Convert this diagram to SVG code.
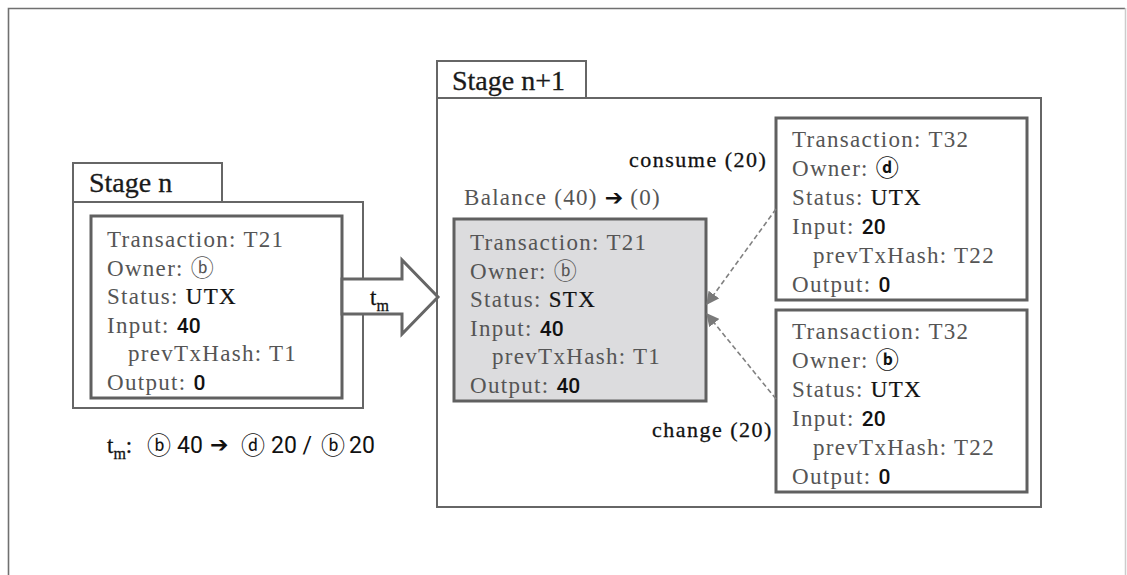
<svg xmlns="http://www.w3.org/2000/svg" width="1127" height="575" viewBox="0 0 1127 575">
  <defs>
    <style>
      .frame { fill: none; stroke: #707070; stroke-width: 1.6; }
      .stage { fill: #ffffff; stroke: #666666; stroke-width: 2; }
      .tx { fill: #ffffff; stroke: #606060; stroke-width: 3; }
      .tx.spent { fill: #dcdcde; }
      .title { font-family: "Liberation Serif", serif; font-size: 28px; fill: #1a1a1a; stroke: #1a1a1a; stroke-width: 0.3; }
      .lbl { font-family: "Liberation Serif", serif; font-size: 23px; fill: #555555; letter-spacing: 1.3px; }
      .val { fill: #111111; stroke: #111111; stroke-width: 0.2; }
      .num { font-family: Roboto, "Liberation Sans", sans-serif; font-weight: 500; font-size: 21px; fill: #111111; letter-spacing: 0; }
      .circ { font-family: "Noto Sans CJK KR", "DejaVu Sans", sans-serif; font-size: 23px; letter-spacing: 0; }
      .circ.dark { fill: #111111; font-weight: bold; }
      .note { font-family: "Liberation Serif", serif; font-size: 22px; fill: #111111; stroke: #111111; stroke-width: 0.3; letter-spacing: 1.5px; }
      .sym { font-family: "DejaVu Sans", sans-serif; font-weight: bold; font-size: 22px; fill: #111111; letter-spacing: 0; }
      .sub { font-family: "Liberation Serif", serif; fill: #111111; stroke: #111111; stroke-width: 0.3; }
      .lg { font-family: Roboto, "Liberation Sans", sans-serif; font-size: 23px; fill: #111111; }
      .lgc { font-family: "Noto Sans CJK KR", "DejaVu Sans", sans-serif; font-size: 24px; fill: #111111; }
      .link { fill: none; stroke: #808080; stroke-width: 1.6; stroke-dasharray: 5 3; }
    </style>
    <marker id="head" viewBox="0 0 10 10" refX="9" refY="5" markerWidth="13" markerHeight="13" orient="auto" markerUnits="userSpaceOnUse">
      <path d="M0,0 L10,5 L0,10 z" fill="#7a7a7a"/>
    </marker>
  </defs>

  <!-- page frame (open at the bottom) -->
  <path class="frame" d="M8.5,580 V8.5 H1125"/>
  <line x1="1125.5" y1="8" x2="1125.5" y2="580" stroke="#cccccc" stroke-width="1.5"/>

  <!-- Stage n -->
  <g id="stage-n">
    <rect class="stage" x="73" y="163" width="149" height="39"/>
    <rect class="stage" x="73" y="202" width="290" height="206"/>
    <text class="title" x="89" y="192">Stage n</text>
  </g>

  <g id="tx-t21-utx">
    <rect class="tx" x="91" y="216" width="251" height="182"/>
    <text class="lbl" x="107" y="247">Transaction: T21</text>
    <text class="lbl" x="107" y="275.5">Owner: <tspan class="circ">ⓑ</tspan></text>
    <text class="lbl" x="107" y="304">Status: <tspan class="val">UTX</tspan></text>
    <text class="lbl" x="107" y="332.5">Input: <tspan class="num">40</tspan></text>
    <text class="lbl" x="128" y="361">prevTxHash: T1</text>
    <text class="lbl" x="107" y="389.5">Output: <tspan class="num">0</tspan></text>
  </g>

  <!-- Stage n+1 -->
  <g id="stage-n1">
    <rect class="stage" x="437" y="61" width="149" height="37"/>
    <rect class="stage" x="437" y="98" width="604" height="409"/>
    <text class="title" x="452" y="90">Stage n+1</text>
  </g>

  <!-- transition t_m -->
  <g id="transition">
    <polygon points="342,279 402,279 402,260 438,297 402,334 402,314 342,314" fill="#ffffff" stroke="#666666" stroke-width="3" stroke-linejoin="miter"/>
    <text class="sub" font-size="23" x="370" y="305">t<tspan font-size="16" dy="6">m</tspan></text>
  </g>

  <g id="balance">
    <text class="lbl" x="464" y="205" letter-spacing="1">Balance (40) <tspan class="sym">➔</tspan> (0)</text>
  </g>

  <g id="tx-t21-stx">
    <rect class="tx spent" x="454" y="219" width="252" height="182"/>
    <text class="lbl" x="470" y="250">Transaction: T21</text>
    <text class="lbl" x="470" y="278.6">Owner: <tspan class="circ">ⓑ</tspan></text>
    <text class="lbl" x="470" y="307.2">Status: <tspan class="val">STX</tspan></text>
    <text class="lbl" x="470" y="335.8">Input: <tspan class="num">40</tspan></text>
    <text class="lbl" x="492" y="364.4">prevTxHash: T1</text>
    <text class="lbl" x="470" y="393">Output: <tspan class="num">40</tspan></text>
  </g>

  <g id="tx-t32-d">
    <rect class="tx" x="776" y="118" width="251" height="182"/>
    <text class="lbl" x="792" y="147">Transaction: T32</text>
    <text class="lbl" x="792" y="176">Owner: <tspan class="circ dark">ⓓ</tspan></text>
    <text class="lbl" x="792" y="205">Status: <tspan class="val">UTX</tspan></text>
    <text class="lbl" x="792" y="234">Input: <tspan class="num">20</tspan></text>
    <text class="lbl" x="813" y="263">prevTxHash: T22</text>
    <text class="lbl" x="792" y="292">Output: <tspan class="num">0</tspan></text>
  </g>

  <g id="tx-t32-b">
    <rect class="tx" x="776" y="310" width="251" height="182"/>
    <text class="lbl" x="792" y="339">Transaction: T32</text>
    <text class="lbl" x="792" y="368">Owner: <tspan class="circ dark">ⓑ</tspan></text>
    <text class="lbl" x="792" y="397">Status: <tspan class="val">UTX</tspan></text>
    <text class="lbl" x="792" y="426">Input: <tspan class="num">20</tspan></text>
    <text class="lbl" x="813" y="455">prevTxHash: T22</text>
    <text class="lbl" x="792" y="484">Output: <tspan class="num">0</tspan></text>
  </g>

  <!-- dashed links from the new outputs back to the spent transaction -->
  <g id="connectors">
    <line class="link" x1="776" y1="209" x2="707" y2="304" marker-end="url(#head)"/>
    <line class="link" x1="776" y1="399" x2="707" y2="314" marker-end="url(#head)"/>
    <text class="note" x="629" y="167">consume (20)</text>
    <text class="note" x="652" y="437">change (20)</text>
  </g>

  <!-- transition summary -->
  <g id="legend">
    <text class="sub" font-size="23" x="107" y="453">t<tspan font-size="16" dy="6">m</tspan><tspan dy="-6">:</tspan></text>
    <text class="lgc" x="147" y="454">ⓑ</text>
    <text class="lg" x="177" y="453">40</text>
    <text class="sym" font-size="23" x="210" y="452">➔</text>
    <text class="lgc" x="241" y="454">ⓓ</text>
    <text class="lg" x="271" y="453">20 /</text>
    <text class="lgc" x="321" y="454">ⓑ</text>
    <text class="lg" x="349" y="453">20</text>
  </g>
</svg>
